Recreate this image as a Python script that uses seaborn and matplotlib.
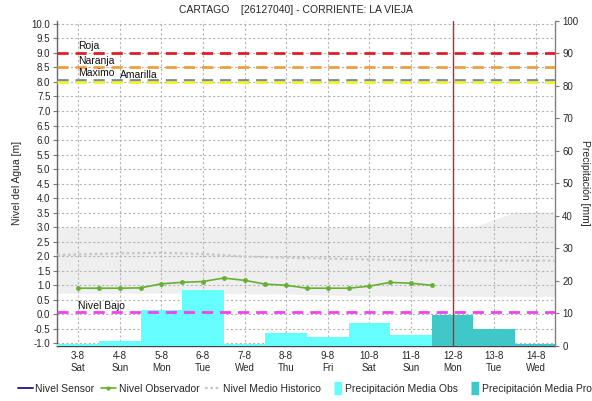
import numpy as np
import pandas as pd
import seaborn as sns
import matplotlib.pyplot as plt
from matplotlib.lines import Line2D

# Data
days = ["3-8", "4-8", "5-8", "6-8", "7-8", "8-8", "9-8", "10-8", "11-8", "12-8", "13-8", "14-8"]
weekdays = ["Sat", "Sun", "Mon", "Tue", "Wed", "Thu", "Fri", "Sat", "Sun", "Mon", "Tue", "Wed"]
precip_mm = [0.5, 1.5, 11.0, 17.0, 0.4, 4.0, 2.8, 6.9, 3.4, 9.3, 5.0, 0.6]
precip_tipo = ["Obs"] * 9 + ["Pro"] * 3

# observer readings every 12 h (offset in days from 3-8)
obs_dia = [0, 0.5, 1, 1.5, 2, 2.5, 3, 3.5, 4, 4.5, 5, 5.5, 6, 6.5, 7, 7.5, 8, 8.5]
obs_nivel = [0.90, 0.90, 0.90, 0.91, 1.05, 1.10, 1.13, 1.25, 1.17, 1.04,
             1.00, 0.90, 0.90, 0.90, 0.97, 1.10, 1.07, 1.00]

# historic mean level and band
hist_dia = [-0.5, 0, 1, 2, 3, 4, 5, 6, 7, 8, 9, 9.5, 10.5, 11, 11.5]
hist_media = [2.04, 2.06, 2.10, 2.12, 2.08, 1.99, 1.95, 1.92, 1.89, 1.86, 1.85, 1.85, 1.85, 1.85, 1.85]
hist_min = [0.73, 0.73, 0.73, 0.73, 0.72, 0.71, 0.70, 0.66, 0.63, 0.62, 0.62, 0.62, 0.62, 0.62, 0.62]
hist_max = [3.0, 3.0, 3.0, 3.0, 3.0, 3.0, 3.0, 3.0, 3.0, 3.0, 3.0, 3.0, 3.52, 3.53, 3.53]

umbral_nombres = ["Roja", "Naranja", "Maximo", "Amarilla", "Nivel Bajo"]
umbral_valores = [9.0, 8.5, 8.08, 8.0, 0.07]
umbral_colores = ["#dd1f2a", "#eea040", "#7c88a8", "#f2f227", "#ee44ee"]
ahora = 9.02  # current time marker (12-8)

sns.set_theme(style="white")
plt.rcParams["font.family"] = ["Liberation Sans", "DejaVu Sans"]

fig = plt.figure(figsize=(5.92, 4.01), dpi=100)
ax = fig.add_axes([0.0968, 0.1379, 0.8412, 0.8105])
ax2 = ax.twinx()
ax3 = ax.twinx()

# background: grid + historic band
ax.fill_between(hist_dia, hist_min, hist_max, color="#efefef", lw=0, zorder=0.5)
ax.grid(True, linestyle=(0, (2, 2)), color="#b5b5b5", lw=0.8)
ax.set_axisbelow(True)

# precipitation bars on the right axis
df = pd.DataFrame({"dia": np.arange(len(days)), "mm": precip_mm, "tipo": precip_tipo})
sns.barplot(data=df, x="dia", y="mm", hue="tipo", native_scale=True, orient="x",
            palette={"Obs": "#66ffff", "Pro": "#40c8c8"}, dodge=False, width=1.0,
            errorbar=None, saturation=1, linewidth=0, legend=False, ax=ax2)

# lines on top
sns.lineplot(x=hist_dia, y=hist_media, ax=ax3, color="#c6c6c6", lw=1.6,
             linestyle=(0, (1.2, 1.2)))
sns.lineplot(x=obs_dia, y=obs_nivel, ax=ax3, color="#66b032", lw=1.2,
             marker="o", markersize=3.5, markeredgewidth=0)
for nombre, val, col in zip(umbral_nombres, umbral_valores, umbral_colores):
    ax3.axhline(val, color=col, lw=2, linestyle=(0, (4, 2.5)))
    xt = 1 if nombre == "Amarilla" else 0
    ax3.text(xt, val + 0.06, nombre, fontsize=7.5, ha="left", va="bottom", color="#111111")
ax3.axvline(ahora, color="#d42020", lw=1)

# limits and ticks
for a in (ax, ax3):
    a.set_ylim(-1.08, 10.11)
ax2.set_ylim(0, 100)
ax.set_xlim(-0.5, 11.47)

ax.set_yticks(np.arange(-1.0, 10.01, 0.5))
ax.set_yticklabels([f"{v:.1f}" for v in np.arange(-1.0, 10.01, 0.5)])
ax.set_xticks(np.arange(len(days)))
ax.set_xticklabels([f"{d}\n{w}" for d, w in zip(days, weekdays)], linespacing=1.25)
ax2.set_yticks(np.arange(0, 101, 10))
ax2.set_xlabel("")
ax3.set_xlabel("")
ax3.yaxis.set_visible(False)

ax.tick_params(axis="y", labelsize=7, length=3, width=0.8, color="#777777", pad=2, left=True)
ax.tick_params(axis="x", labelsize=7, length=0, pad=4, bottom=True)
ax2.tick_params(axis="y", labelsize=7, length=3, width=0.8, color="#777777", pad=2, right=True)

for a in (ax, ax2, ax3):
    for s in a.spines.values():
        s.set_visible(False)
ax.spines["left"].set_visible(True)
ax.spines["left"].set_color("#666666")
ax.spines["left"].set_linewidth(1)
ax.spines["bottom"].set_visible(True)
ax.spines["bottom"].set_color("#444444")
ax.spines["bottom"].set_linestyle((0, (1, 1)))
ax.spines["bottom"].set_linewidth(1)
ax2.spines["right"].set_visible(True)
ax2.spines["right"].set_color("#808080")
ax2.spines["right"].set_linewidth(1)

ax.set_ylabel("Nivel del Agua [m]", fontsize=7.5)
ax.yaxis.set_label_coords(-0.071, 0.5)
ax2.set_ylabel("Precipitación [mm]", fontsize=7.5, rotation=270, va="center")
ax2.yaxis.set_label_coords(1.06, 0.5)
fig.text(0.5, 0.975, "CARTAGO    [26127040] - CORRIENTE: LA VIEJA", ha="center",
         va="center", fontsize=7.5)

# legend
rect = [(-0.1, -1), (0.9, -1), (0.9, 1), (-0.1, 1)]
handles = [
    Line2D([], [], color="#1a1a80", lw=1.3),
    Line2D([], [], color="#66b032", lw=1.2, marker="o", markersize=3, markeredgewidth=0),
    Line2D([], [], color="#c6c6c6", lw=1.6, linestyle=(0, (1.2, 1.2))),
    Line2D([], [], color="#66ffff", lw=0, marker=rect, markersize=9),
    Line2D([], [], color="#40c8c8", lw=0, marker=rect, markersize=9),
]
labels = ["Nivel Sensor", "Nivel Observador", "Nivel Medio Historico",
          "Precipitación Media Obs", "Precipitación Media Pro"]
fig.legend(handles, labels, loc="center left", bbox_to_anchor=(0.03, 0.03), ncol=5,
           frameon=False, fontsize=7.5, handlelength=1.45, handletextpad=0.25,
           columnspacing=0.6, borderpad=0, borderaxespad=0)

fig.savefig("out.png", dpi=100)
